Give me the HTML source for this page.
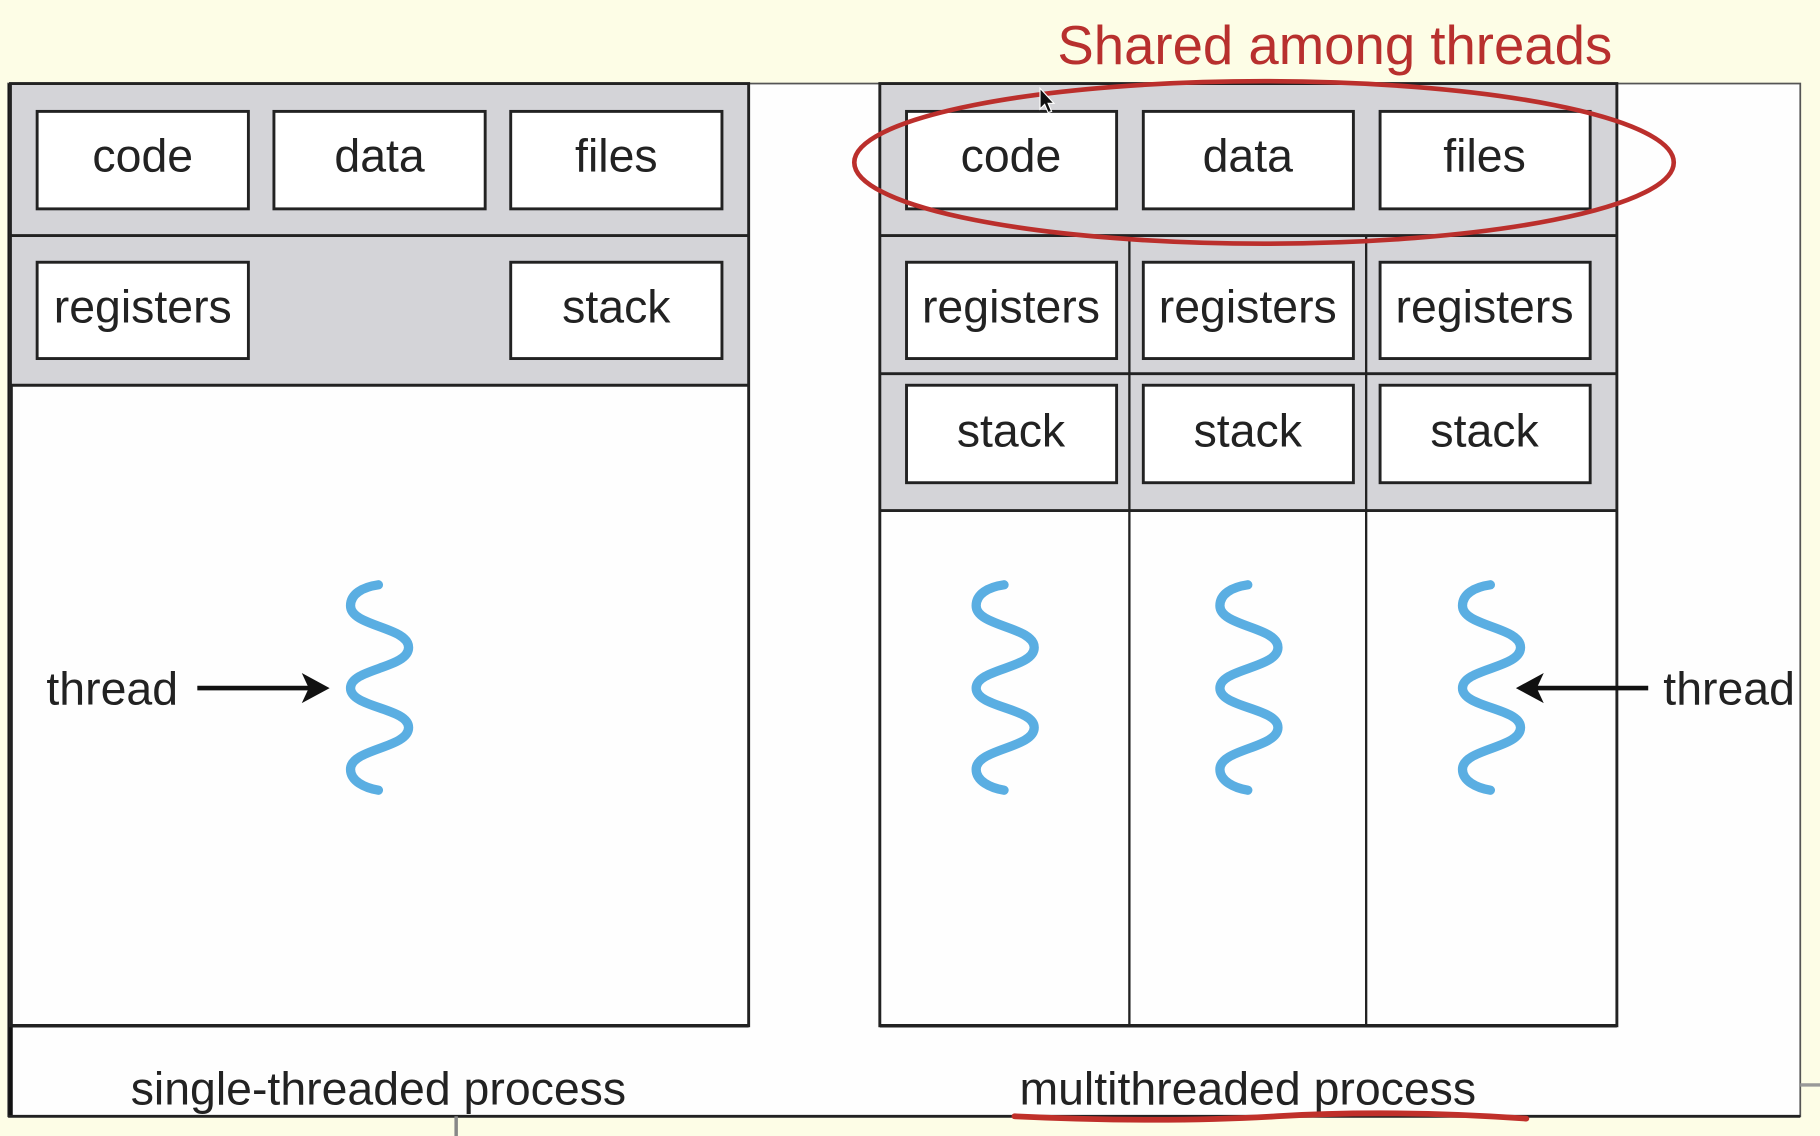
<!DOCTYPE html>
<html><head><meta charset="utf-8"><style>
html,body{margin:0;padding:0;background:#fdfde6;}
svg{display:block}
text{font-family:"Liberation Sans",Arial,sans-serif;fill:#222;}
</style></head><body>
<svg width="1820" height="1136" viewBox="0 0 1568 979" preserveAspectRatio="none" xmlns="http://www.w3.org/2000/svg">
<defs>
<path id="w" d="M0,504 C-14,506 -24,512 -24,522 C-24,540 26,540 26,558 C26,576 -24,576 -24,593 C-24,610 26,610 26,627 C26,645 -24,645 -24,663 C-24,673 -12,679 0,681" fill="none" stroke="#5aaee2" stroke-width="8" stroke-linecap="round"/>
</defs>
<rect x="0" y="0" width="1568" height="979" fill="#fdfde6"/>
<!-- outer frame -->
<rect x="7" y="72" width="1544" height="890" fill="#fefefe" stroke="#555" stroke-width="1.5"/>
<line x1="9" y1="72" x2="9" y2="962" stroke="#111" stroke-width="4"/>
<line x1="7" y1="962" x2="1551" y2="962" stroke="#222" stroke-width="2.5"/>
<line x1="393" y1="962" x2="393" y2="979" stroke="#888" stroke-width="3"/>
<line x1="1551" y1="935" x2="1568" y2="935" stroke="#999" stroke-width="3"/>

<!-- left process -->
<rect x="9" y="72" width="636" height="260" fill="#d4d4d8"/>
<rect x="9" y="72" width="636" height="812" fill="none" stroke="#222" stroke-width="2.5"/>
<line x1="9" y1="203" x2="645" y2="203" stroke="#222" stroke-width="2.5"/>
<line x1="9" y1="332" x2="645" y2="332" stroke="#222" stroke-width="2.5"/>
<line x1="9" y1="884" x2="645" y2="884" stroke="#222" stroke-width="3"/>
<g fill="#fff" stroke="#222" stroke-width="2.5">
<rect x="32" y="96" width="182" height="84"/>
<rect x="236" y="96" width="182" height="84"/>
<rect x="440" y="96" width="182" height="84"/>
<rect x="32" y="226" width="182" height="83"/>
<rect x="440" y="226" width="182" height="83"/>
</g>
<g font-size="40" text-anchor="middle">
<text x="123" y="148">code</text>
<text x="327" y="148">data</text>
<text x="531" y="148">files</text>
<text x="123" y="278">registers</text>
<text x="531" y="278">stack</text>
</g>

<!-- right process -->
<rect x="758" y="72" width="635" height="368" fill="#d4d4d8"/>
<rect x="758" y="72" width="635" height="812" fill="none" stroke="#222" stroke-width="2.5"/>
<line x1="758" y1="203" x2="1393" y2="203" stroke="#222" stroke-width="2.5"/>
<line x1="758" y1="322" x2="1393" y2="322" stroke="#222" stroke-width="2.5"/>
<line x1="758" y1="440" x2="1393" y2="440" stroke="#222" stroke-width="2.5"/>
<line x1="973" y1="203" x2="973" y2="884" stroke="#222" stroke-width="2"/>
<line x1="1177" y1="203" x2="1177" y2="884" stroke="#222" stroke-width="2"/>
<line x1="758" y1="884" x2="1393" y2="884" stroke="#222" stroke-width="3"/>
<g fill="#fff" stroke="#222" stroke-width="2.5">
<rect x="781" y="96" width="181" height="84"/>
<rect x="985" y="96" width="181" height="84"/>
<rect x="1189" y="96" width="181" height="84"/>
<rect x="781" y="226" width="181" height="83"/>
<rect x="985" y="226" width="181" height="83"/>
<rect x="1189" y="226" width="181" height="83"/>
<rect x="781" y="332" width="181" height="84"/>
<rect x="985" y="332" width="181" height="84"/>
<rect x="1189" y="332" width="181" height="84"/>
</g>
<g font-size="40" text-anchor="middle">
<text x="871" y="148">code</text>
<text x="1075" y="148">data</text>
<text x="1279" y="148">files</text>
<text x="871" y="278">registers</text>
<text x="1075" y="278">registers</text>
<text x="1279" y="278">registers</text>
<text x="871" y="385">stack</text>
<text x="1075" y="385">stack</text>
<text x="1279" y="385">stack</text>
</g>

<!-- threads -->
<use href="#w" x="326"/>
<use href="#w" x="865"/>
<use href="#w" x="1075"/>
<use href="#w" x="1284"/>

<!-- arrows -->
<line x1="170" y1="593" x2="270" y2="593" stroke="#111" stroke-width="4"/>
<path d="M284,593 L260,580 L266,593 L260,606 Z" fill="#111"/>
<line x1="1420" y1="593" x2="1320" y2="593" stroke="#111" stroke-width="4"/>
<path d="M1306,593 L1330,580 L1324,593 L1330,606 Z" fill="#111"/>
<text x="40" y="607" font-size="40">thread</text>
<text x="1433" y="607" font-size="40">thread</text>

<!-- bottom labels -->
<text x="326" y="952" font-size="40" text-anchor="middle">single-threaded process</text>
<text x="1075" y="952" font-size="40" text-anchor="middle">multithreaded process</text>
<path d="M874,962 Q1000,968 1100,962 T1315,964" fill="none" stroke="#c0302a" stroke-width="5" stroke-linecap="round"/>

<!-- annotation -->
<text x="1150" y="55" font-size="47" text-anchor="middle" style="fill:#b8302e">Shared among threads</text>
<ellipse cx="1089" cy="140" rx="353" ry="70" fill="none" stroke="#bb2f2c" stroke-width="4"/>
<path d="M896,76 L896,94 L900,90 L903,97 L906,96 L903,89 L908,89 Z" fill="#111" stroke="#fff" stroke-width="1"/>
</svg>
</body></html>
